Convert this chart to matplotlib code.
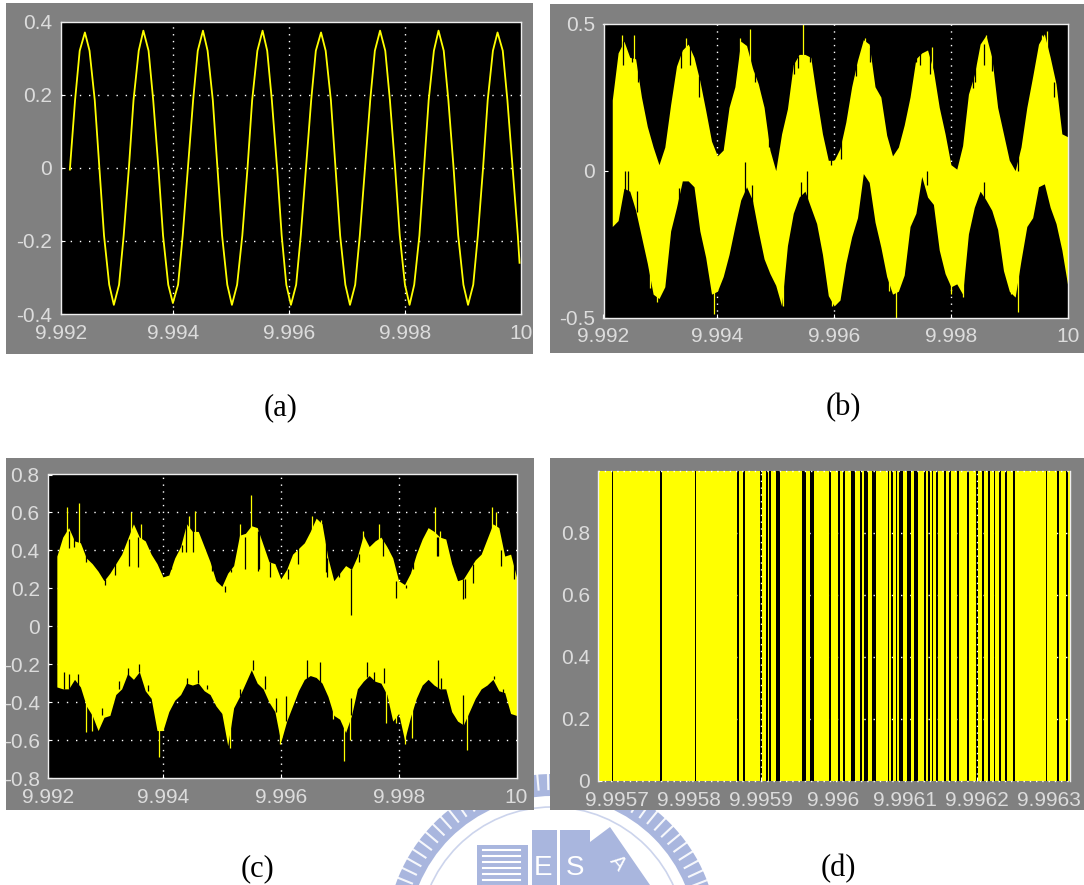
import numpy as np
import matplotlib
matplotlib.use("Agg")
import matplotlib.pyplot as plt
from matplotlib.patches import Rectangle, Annulus, Polygon, Circle

W, H = 1084, 885
YEL = "#ffff00"
GRAY = "#808080"
TXT = "#dcdcdc"
FONT = "Liberation Sans"
SERIF = "Liberation Serif"

# ---------- panel (a): sine trace ----------
a_t = [9.99221, 9.99230, 9.99238, 9.99247,
       9.99255, 9.99264, 9.99272, 9.99280, 9.99289, 9.99297,
       9.99306, 9.99314, 9.99323, 9.99331, 9.99340, 9.99348,
       9.99357, 9.99365, 9.99374, 9.99382, 9.99391, 9.99399,
       9.99408, 9.99416, 9.99425, 9.99434, 9.99442, 9.99451,
       9.99459, 9.99468, 9.99476, 9.99484, 9.99493, 9.99501,
       9.99510, 9.99519, 9.99528, 9.99536, 9.99545, 9.99554,
       9.99562, 9.99570, 9.99579, 9.99587, 9.99595, 9.99603,
       9.99612, 9.99620, 9.99629, 9.99638, 9.99646, 9.99655,
       9.99663, 9.99672, 9.99680, 9.99688, 9.99697, 9.99705,
       9.99714, 9.99722, 9.99731, 9.99740, 9.99748, 9.99757,
       9.99766, 9.99774, 9.99783, 9.99791, 9.99800, 9.99808,
       9.99816, 9.99825, 9.99833, 9.99841, 9.99850, 9.99858,
       9.99867, 9.99875, 9.99884, 9.99892, 9.99901, 9.99909,
       9.99918, 9.99926, 9.99935, 9.99943, 9.99952, 9.99960,
       9.99969, 9.99977, 9.99986, 9.99995, 9.99998]
a_y = [-0.005, 0.185, 0.32, 0.37,
       0.32, 0.185, 0.0, -0.185, -0.32, -0.375,
       -0.32, -0.185, 0.0, 0.185, 0.32, 0.375,
       0.32, 0.185, 0.0, -0.185, -0.32, -0.37,
       -0.32, -0.185, 0.0, 0.185, 0.32, 0.375,
       0.32, 0.185, 0.0, -0.185, -0.32, -0.375,
       -0.32, -0.185, 0.0, 0.185, 0.32, 0.375,
       0.32, 0.185, 0.0, -0.185, -0.32, -0.375,
       -0.32, -0.185, 0.0, 0.185, 0.32, 0.37,
       0.32, 0.185, 0.0, -0.185, -0.32, -0.375,
       -0.32, -0.185, 0.0, 0.185, 0.32, 0.375,
       0.32, 0.185, 0.0, -0.185, -0.32, -0.375,
       -0.32, -0.185, 0.0, 0.185, 0.32, 0.375,
       0.32, 0.185, 0.0, -0.185, -0.32, -0.375,
       -0.32, -0.185, 0.0, 0.185, 0.32, 0.37,
       0.32, 0.185, 0.0, -0.185, -0.26]

# ---------- panels (b), (c): envelopes sampled every 0.1 ms ----------
env_t = [9.9922, 9.9923, 9.9924, 9.9925, 9.9926, 9.9927, 9.9928, 9.9929, 9.9930,
         9.9931, 9.9932, 9.9933, 9.9934, 9.9935, 9.9936, 9.9937, 9.9938, 9.9939, 9.9940,
         9.9941, 9.9942, 9.9943, 9.9944, 9.9945, 9.9946, 9.9947, 9.9948, 9.9949, 9.9950,
         9.9951, 9.9952, 9.9953, 9.9954, 9.9955, 9.9956, 9.9957, 9.9958, 9.9959, 9.9960,
         9.9961, 9.9962, 9.9963, 9.9964, 9.9965, 9.9966, 9.9967, 9.9968, 9.9969, 9.9970,
         9.9971, 9.9972, 9.9973, 9.9974, 9.9975, 9.9976, 9.9977, 9.9978, 9.9979, 9.9980,
         9.9981, 9.9982, 9.9983, 9.9984, 9.9985, 9.9986, 9.9987, 9.9988, 9.9989, 9.9990,
         9.9991, 9.9992, 9.9993, 9.9994, 9.9995, 9.9996, 9.9997, 9.9998, 9.9999, 10.0]

b_upper = [.24, .40, .44, .385, .38, .25, .15, .08, .02,
           .08, .225, .355, .41, .43, .385, .305, .205, .10, .05,
           .07, .215, .285, .44, .425, .35, .295, .215, .07, .0,
           .125, .21, .36, .395, .395, .385, .25, .125, .035, .035,
           .075, .165, .285, .375, .445, .43, .285, .25, .12, .05,
           .08, .155, .25, .38, .40, .41, .34, .215, .125, .02,
           .005, .085, .26, .325, .43, .46, .385, .215, .125, .035,
           .0, .08, .215, .32, .43, .465, .385, .295, .125, .115]
b_lower = [-.19, -.17, -.06, -.07, -.135, -.225, -.315, -.42, -.435,
           -.395, -.205, -.125, -.035, -.035, -.055, -.205, -.295, -.42, -.41,
           -.36, -.285, -.19, -.10, -.055, -.10, -.205, -.30, -.35, -.39,
           -.46, -.255, -.145, -.09, -.07, -.125, -.18, -.285, -.425, -.46,
           -.44, -.315, -.225, -.16, -.01, -.04, -.175, -.26, -.36, -.42,
           -.41, -.355, -.19, -.145, -.02, -.09, -.115, -.27, -.35, -.395,
           -.385, -.42, -.215, -.125, -.07, -.10, -.135, -.20, -.34, -.41,
           -.43, -.305, -.19, -.16, -.055, -.045, -.125, -.18, -.27, -.39]
b_up_spike_t = [9.99236, 9.99258, 9.99346, 9.99438, 9.99456, 9.99546, 9.99652, 9.99768, 9.99860, 9.99956, 9.99965]
b_up_spike_v = [.46, .46, .45, .45, .48, .50, .45, .42, .46, .46, .475]
b_dn_spike_t = [9.99285, 9.99297, 9.99394, 9.99512, 9.99597, 9.99694, 9.99706, 9.99800, 9.99821, 9.99903, 9.99915]
b_dn_spike_v = [-.40, -.445, -.487, -.46, -.46, -.41, -.50, -.42, -.43, -.42, -.48]
b_notch_t = [9.99253, 9.99338, 9.99462, 9.99532, 9.99559, 9.99747, 9.99838, 9.99915,
             9.99247, 9.99447, 9.99459, 9.99553, 9.99856,
             9.99238, 9.99264, 9.99353, 9.99368, 9.99465, 9.99488, 9.99538, 9.99594, 9.99612,
             9.99638, 9.99662, 9.99741, 9.99765, 9.99841, 9.99856, 9.99871, 9.99976,
             9.99241, 9.99262, 9.99335, 9.99544, 9.99759]
b_notch_lo = [.37, .35, .34, .33, .37, .36, .28, .0, -.07, -.10, -.11, -.10, -.12,
              .36, .30, .36, .25, .30, .08, .35, .02, .04,
              .32, .37, .37, .33, .30, .36, .34, .25,
              -.07, -.14, -.12, -.09, -.05]
b_notch_hi = [.44, .41, .42, .39, .42, .42, .34, .12, .0, .03, -.05, .0, -.04,
              .44, .36, .42, .32, .37, .20, .39, .09, .10,
              .36, .42, .40, .41, .36, .43, .40, .30,
              .0, -.07, -.06, -.04, .0]

c_upper = [.37, .47, .52, .45, .44, .36, .33, .29, .24,
           .28, .33, .38, .46, .54, .47, .45, .38, .33, .26,
           .27, .36, .42, .54, .50, .50, .42, .34, .24, .21,
           .28, .32, .48, .49, .53, .52, .43, .34, .33, .25,
           .30, .38, .41, .44, .50, .57, .54, .36, .24, .28,
           .32, .30, .37, .48, .42, .45, .47, .42, .36, .24,
           .22, .28, .38, .46, .52, .50, .47, .46, .33, .24,
           .25, .30, .35, .38, .46, .54, .52, .37, .38, .26]
c_lower = [-.32, -.33, -.33, -.28, -.32, -.42, -.47, -.55, -.48,
           -.47, -.36, -.33, -.25, -.28, -.24, -.34, -.38, -.55, -.55,
           -.45, -.39, -.36, -.30, -.31, -.30, -.34, -.36, -.42, -.46,
           -.63, -.43, -.37, -.30, -.23, -.30, -.33, -.40, -.45, -.61,
           -.50, -.42, -.34, -.28, -.26, -.27, -.30, -.37, -.47, -.49,
           -.56, -.47, -.33, -.29, -.26, -.29, -.30, -.36, -.50, -.46,
           -.60, -.48, -.38, -.31, -.28, -.31, -.33, -.33, -.45, -.50,
           -.52, -.45, -.38, -.33, -.31, -.28, -.34, -.35, -.46, -.47]
c_up_spike_t = [9.99237, 9.99258, 9.99346, 9.99362, 9.99444, 9.99454, 9.99530, 9.99550, 9.99653, 9.99668,
                9.99740, 9.99767, 9.99861, 9.99871, 9.99958, 9.99965]
c_up_spike_v = [.63, .65, .60, .54, .58, .61, .54, .69, .58, .56, .50, .54, .63, .50, .63, .60]
c_dn_spike_t = [9.99394, 9.99514, 9.99598, 9.99708, 9.99717, 9.99811, 9.99822, 9.99916, 9.99904,
                9.99270, 9.99279, 9.99290, 9.99688, 9.99796, 9.99779]
c_dn_spike_v = [-.69, -.64, -.62, -.71, -.60, -.62, -.59, -.65, -.50,
                -.56, -.55, -.50, -.49, -.51, -.51]
c_notch_t = [9.99720, 9.99796, 9.99506, 9.99913, 9.99866, 9.99343, 9.99357, 9.99439, 9.99562, 9.99679, 9.99241,
             9.99241, 9.99666, 9.99644, 9.99553, 9.99746, 9.99867, 9.99460, 9.99360,
             9.99249, 9.99270, 9.99302, 9.99319, 9.99413, 9.99432, 9.99451, 9.99483, 9.99515, 9.99540,
             9.99563, 9.99582, 9.99612, 9.99629, 9.99676, 9.99699, 9.99732, 9.99773, 9.99813, 9.99825,
             9.99865, 9.99895, 9.99910, 9.99927, 9.99974, 9.99995,
             9.99232, 9.99256, 9.99297, 9.99326, 9.99340, 9.99375, 9.99441, 9.99474, 9.99497, 9.99530,
             9.99574, 9.99592, 9.99609, 9.99720, 9.99758, 9.99775, 9.99872, 9.99910, 9.99962, 9.99977]
c_notch_lo = [.06, .15, .18, .15, .37, .32, .31, .39, .29, .26, .41,
              -.33, -.30, -.28, -.23, -.27, -.33, -.30, -.24,
              .42, .34, .215, .27, .30, .39, .39, .29, .285, .30,
              .30, .26, .25, .33, .285, .26, .34, .37, .20, .30,
              .37, .285, .145, .23, .32, .25,
              -.33, -.32, -.47, -.33, -.28, -.34, -.31, -.33, -.47, -.37,
              -.33, -.45, -.50, -.47, -.29, -.30, -.33, -.52, -.28, -.35]
c_notch_hi = [.30, .24, .21, .25, .47, .46, .47, .54, .50, .36, .50,
              -.25, -.19, -.18, -.18, -.19, -.18, -.23, -.20,
              .50, .40, .25, .34, .33, .43, .55, .34, .30, .47,
              .52, .34, .30, .42, .45, .29, .38, .47, .22, .35,
              .47, .32, .25, .33, .40, .38,
              -.24, -.25, -.43, -.29, -.22, -.31, -.275, -.31, -.45, -.33,
              -.26, -.38, -.37, -.38, -.24, -.22, -.275, -.36, -.26, -.33]

# ---------- panel (d): off-gaps of the pulse train ----------
d_gap_t = [9.995694, 9.995761, 9.995809, 9.995868, 9.995876, 9.995900, 9.995908, 9.995913, 9.995923,
           9.995960, 9.995971, 9.995996, 9.996008, 9.996015, 9.996027, 9.996039, 9.996046, 9.996057,
           9.996077, 9.996082, 9.996088, 9.996094, 9.996105, 9.996115, 9.996128, 9.996133, 9.996138,
           9.996144, 9.996155, 9.996162, 9.996173, 9.996187, 9.996200, 9.996208, 9.996216, 9.996224,
           9.996232, 9.996240, 9.996251, 9.996296, 9.996312, 9.996325]
d_gap_w = [2.6, 2.4, 2.4, 2.4, 2.6, 2.8, 2.4, 2.8, 5.5,
           5.3, 5.3, 2.8, 2.4, 2.4, 5.5, 2.4, 5.5, 5.5,
           2.4, 2.4, 2.4, 5.3, 5.3, 5.3, 2.4, 2.4, 2.4,
           2.4, 2.4, 2.4, 2.4, 2.4, 2.8, 2.8, 2.4, 2.4,
           2.4, 2.4, 2.4, 2.4, 2.4, 2.4]  # microseconds

x_labels = ["9.992", "9.994", "9.996", "9.998", "10"]
d_x_labels = ["9.9957", "9.9958", "9.9959", "9.996", "9.9961", "9.9962", "9.9963"]
d_x_ticks = [9.9957, 9.9958, 9.9959, 9.9960, 9.9961, 9.9962, 9.9963]

fig = plt.figure(figsize=(W / 100, H / 100), dpi=100, facecolor="white")

# background layer in pixel coordinates: emblem, gray panels, captions
bg = fig.add_axes([0, 0, 1, 1], zorder=0)
bg.set_xlim(0, W)
bg.set_ylim(H, 0)
bg.axis("off")
BLUE = "#a9b6de"
EC = (552, 940)
bg.add_patch(Annulus(EC, 166, 22, facecolor=BLUE, edgecolor="none"))
bg.add_patch(Circle(EC, 133, fill=False, edgecolor="#ccd4ec", lw=1.2))
for deg in np.arange(10, 171, 3.7):
    r = np.radians(deg)
    bg.plot([EC[0] + 151 * np.cos(r), EC[0] + 168 * np.cos(r)],
            [EC[1] - 151 * np.sin(r), EC[1] - 168 * np.sin(r)],
            color="white", lw=1.5, alpha=0.9)
bg.add_patch(Rectangle((477, 845), 51, 50, fc=BLUE, ec="none"))
for yy in (850, 856, 862, 868, 874, 880, 886):
    bg.plot([483, 520], [yy, yy], color="white", lw=1.5)
bg.add_patch(Rectangle((532, 830), 25, 60, fc=BLUE, ec="none"))
bg.add_patch(Rectangle((560, 830), 30, 60, fc=BLUE, ec="none"))
bg.add_patch(Polygon([(590, 842), (610, 827), (650, 885), (590, 885)], fc=BLUE, ec="none"))
bg.text(543, 868, "E", color="white", fontsize=20, ha="center", va="center", family=FONT)
bg.text(575, 868, "S", color="white", fontsize=20, ha="center", va="center", family=FONT)
bg.text(618, 863, "A", color="white", fontsize=15, ha="center", va="center", family=FONT, rotation=-50)

for (x0, y0, x1, y1) in [(6, 3, 533, 354), (550, 4, 1084, 353), (6, 458, 534, 810), (550, 458, 1084, 810)]:
    bg.add_patch(Rectangle((x0, y0), x1 - x0, y1 - y0, fc=GRAY, ec="none", zorder=5))
for (x, y, s) in [(281, 408, "(a)"), (843, 408, "(b)"), (257, 869, "(c)"), (838, 869, "(d)")]:
    bg.text(x, y, s, fontsize=22, family=SERIF, ha="center", va="center", color="black", zorder=6)


def make_axes(x0, y0, x1, y1, xlim, ylim, xticks, xlabels, yticks, ylabels, hgrid, vgrid):
    ax = fig.add_axes([x0 / W, 1 - y1 / H, (x1 - x0) / W, (y1 - y0) / H], zorder=2)
    ax.set_facecolor("black")
    ax.set_xlim(*xlim)
    ax.set_ylim(*ylim)
    ax.set_xticks(xticks, xlabels)
    ax.set_yticks(yticks, ylabels)
    ax.tick_params(axis="both", direction="in", length=3, width=0.8, color="white",
                   labelcolor=TXT, labelsize=15)
    ax.tick_params(axis="x", pad=7)
    ax.tick_params(axis="y", pad=6)
    for lab in ax.get_xticklabels() + ax.get_yticklabels():
        lab.set_family(FONT)
    for s in ax.spines.values():
        s.set_color("#eeeeee")
        s.set_linewidth(1.0)
        s.set_zorder(6)
    for v in hgrid:
        ax.axhline(v, color="white", lw=1.0, ls=(0, (1, 5.6)), zorder=1)
    for v in vgrid:
        ax.axvline(v, color="white", lw=1.0, ls=(0, (1, 3.9)), zorder=1)
    return ax


V_GRID = [9.994, 9.996, 9.998]
X_TICKS = [9.99205, 9.994, 9.996, 9.998, 10.0]

axa = make_axes(60.6, 21.5, 520.7, 314, (9.99205, 10.0), (-0.4, 0.4), X_TICKS, x_labels,
                [-0.4, -0.2, 0, 0.2, 0.4], ["-0.4", "-0.2", "0", "0.2", "0.4"],
                [-0.2, 0, 0.2], V_GRID)
axa.plot(a_t, a_y, color=YEL, lw=1.3, zorder=3)

axb = make_axes(603.5, 23.5, 1067.7, 317.7, (9.99205, 10.0), (-0.5, 0.5), X_TICKS, x_labels,
                [-0.5, 0, 0.5], ["-0.5", "0", "0.5"], [], V_GRID)
axb.fill_between(env_t, b_lower, b_upper, color=YEL, lw=0, zorder=3)
axb.vlines(b_up_spike_t, 0, b_up_spike_v, color=YEL, lw=0.9, zorder=3)
axb.vlines(b_dn_spike_t, b_dn_spike_v, 0, color=YEL, lw=0.9, zorder=3)
axb.vlines(b_notch_t, b_notch_lo, b_notch_hi, color="black", lw=0.9, zorder=4)

axc = make_axes(48, 474.5, 516.5, 778, (9.99205, 10.0), (-0.8, 0.8), X_TICKS, x_labels,
                [-0.8, -0.6, -0.4, -0.2, 0, 0.2, 0.4, 0.6, 0.8],
                ["-0.8", "-0.6", "-0.4", "-0.2", "0", "0.2", "0.4", "0.6", "0.8"],
                [-0.6, -0.4, -0.2, 0, 0.2, 0.4, 0.6], V_GRID)
axc.fill_between(env_t, c_lower, c_upper, color=YEL, lw=0, zorder=3)
axc.vlines(c_up_spike_t, 0, c_up_spike_v, color=YEL, lw=0.9, zorder=3)
axc.vlines(c_dn_spike_t, c_dn_spike_v, 0, color=YEL, lw=0.9, zorder=3)
axc.vlines(c_notch_t, c_notch_lo, c_notch_hi, color="black", lw=0.9, zorder=4)

D_XMIN, D_XMAX = 9.9956744, 9.9963287
axd = make_axes(598.4, 470.7, 1070, 781, (D_XMIN, D_XMAX), (0, 1.0), d_x_ticks, d_x_labels,
                [0, 0.2, 0.4, 0.6, 0.8], ["0", "0.2", "0.4", "0.6", "0.8"],
                [0.2, 0.4, 0.6, 0.8], [9.9959, 9.9962])
gap_t = np.array(d_gap_t)
gap_w = np.array(d_gap_w) * 1e-6
edges_on = np.concatenate(([D_XMIN], gap_t + gap_w / 2))
edges_off = np.concatenate((gap_t - gap_w / 2, [D_XMAX]))
for left, right in zip(edges_on, edges_off):
    axd.fill_between([left, right], 0, 1, color=YEL, lw=0, zorder=3)
axd.spines["top"].set_visible(False)
axd.spines["bottom"].set_visible(False)
for v in (0.0, 1.0):
    axd.axhline(v, color="white", lw=1.0, ls=(0, (1, 3.5)), zorder=5, clip_on=False)

fig.savefig("out.png", dpi=100, facecolor="white")
